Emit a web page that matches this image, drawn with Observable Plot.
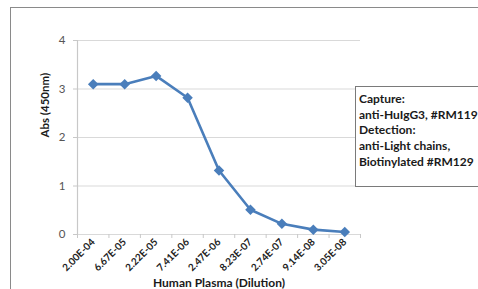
<!DOCTYPE html>
<html>
<head>
<meta charset="utf-8">
<script src="https://cdn.jsdelivr.net/npm/d3@7"></script>
<script src="https://cdn.jsdelivr.net/npm/@observablehq/plot@0.6"></script>
<style>
html, body { margin: 0; padding: 0; overflow: hidden; background: #fff; width: 478px; height: 289px; }
#wrap { position: relative; width: 478px; height: 289px; overflow: hidden; font-family: Lato, "DejaVu Sans", sans-serif; }
#outer { position: absolute; left: 10px; top: 7px; width: 600px; height: 400px; border: 1px solid #8a8a8a; pointer-events: none; }
#note { position: absolute; left: 355px; top: 86px; width: 140px; height: 101px; border: 1px solid #7a7a7a; background: #fff; overflow: hidden; box-sizing: border-box; }
#noteText { position: absolute; left: 3px; top: 4px;
  font-family: Lato, sans-serif; font-weight: bold; font-size: 12px; line-height: 15.7px; color: #1a1a1a; white-space: nowrap; }
</style>
</head>
<body>
<div id="wrap">
  <div id="chart"></div>
  <div id="outer"></div>
  <div id="note"><div id="noteText"></div></div>
</div>
<script>
const dilutions = ["2.00E-04","6.67E-05","2.22E-05","7.41E-06","2.47E-06","8.23E-07","2.74E-07","9.14E-08","3.05E-08"];
const absValues = [3.10, 3.10, 3.27, 2.82, 1.32, 0.51, 0.22, 0.10, 0.05];
const yTicks = [0, 1, 2, 3, 4];
const noteLines = ["Capture:", "anti-HuIgG3, #RM119", "Detection:", "anti-Light chains,", "Biotinylated #RM129"];
const xTitle = "Human Plasma (Dilution)";
const yTitle = "Abs (450nm)";

const data = dilutions.map((d, i) => ({i, label: d, abs: absValues[i]}));
const centers = d3.range(dilutions.length);
const bounds = d3.range(dilutions.length + 1).map(i => i - 0.5);

const chart = Plot.plot({
  width: 478,
  height: 289,
  marginLeft: 77,
  marginRight: 118,
  marginTop: 40,
  marginBottom: 55,
  style: {fontFamily: "Lato, sans-serif", background: "transparent", overflow: "visible"},
  x: {type: "linear", domain: [-0.5, dilutions.length - 0.5]},
  y: {domain: [0, 4]},
  marks: [
    Plot.gridY(yTicks, {stroke: "#d9d9d9", strokeOpacity: 1, strokeWidth: 1.2}),
    Plot.ruleX([-0.5], {stroke: "#c8c8c8", strokeWidth: 1.2}),
    Plot.axisY(yTicks, {tickSize: 4, tickPadding: 8, stroke: "#c8c8c8", fill: "#555", fontSize: 11.5, label: null}),
    Plot.axisX(bounds, {tickSize: 4, tickFormat: () => "", stroke: "#c8c8c8", label: null}),
    Plot.axisX(centers, {tickSize: 0, tickPadding: 6, tickRotate: -45, tickFormat: i => dilutions[i], fontSize: 10, fontWeight: "bold", fill: "#222", label: null}),
    Plot.line(data, {x: "i", y: "abs", stroke: "#4a7ebb", strokeWidth: 2.6}),
    Plot.dot(data, {x: "i", y: "abs", symbol: "square", rotate: 45, fill: "#4a7ebb", r: 4.2}),
    Plot.text([yTitle], {frameAnchor: "left", dx: -32, rotate: -90, fontSize: 11.5, fontWeight: "bold", fill: "#1a1a1a"}),
    Plot.text([xTitle], {frameAnchor: "bottom", dy: 44, lineAnchor: "top", fontSize: 12, fontWeight: "bold", fill: "#1a1a1a"})
  ]
});
document.getElementById("chart").appendChild(chart);
document.getElementById("noteText").innerHTML = noteLines.map(t => `<div>${t}</div>`).join("");
</script>
</body>
</html>
